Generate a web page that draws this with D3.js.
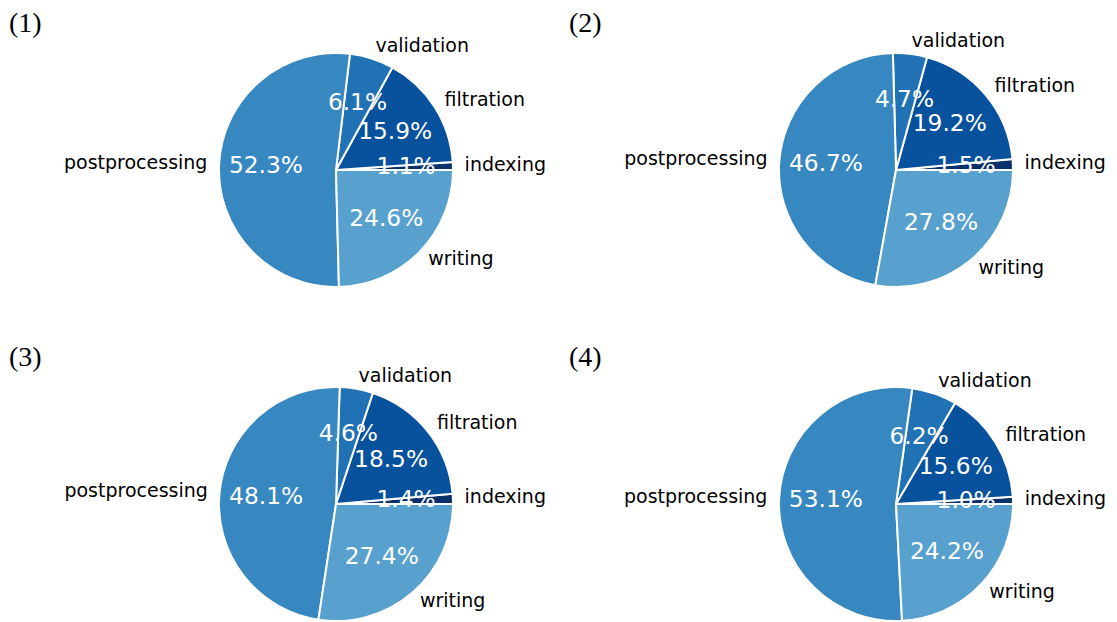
<!DOCTYPE html>
<html>
<head>
<meta charset="utf-8">
<script src="https://cdn.jsdelivr.net/npm/d3@7"></script>
<style>
  html, body { margin: 0; padding: 0; background: #ffffff; }
  svg { display: block; }
</style>
</head>
<body>
<svg id="chart" width="1117" height="622"></svg>
<script>
const categories = ["indexing", "filtration", "validation", "postprocessing", "writing"];
const colors = ["#08306b", "#08519c", "#2171b5", "#3787c0", "#58a1cf"];
const panelTitles = ["(1)", "(2)", "(3)", "(4)"];
const values1 = [1.1, 15.9, 6.1, 52.3, 24.6];
const values2 = [1.5, 19.2, 4.7, 46.7, 27.8];
const values3 = [1.4, 18.5, 4.6, 48.1, 27.4];
const values4 = [1.0, 15.6, 6.2, 53.1, 24.2];
const seriesList = [values1, values2, values3, values4];

const svg = d3.select("#chart");
const R = 117;
const colX = d3.scalePoint().domain([0, 1]).range([336, 896]);
const rowY = d3.scalePoint().domain([0, 1]).range([170, 504]);
const titleX = d3.scalePoint().domain([0, 1]).range([9, 569]);
const titleY = d3.scalePoint().domain([0, 1]).range([22, 356]);

const color = d3.scaleOrdinal().domain(categories).range(colors);

// matplotlib default: start at 3 o'clock, counterclockwise
const pie = d3.pie().sort(null).value(d => d.v)
  .startAngle(Math.PI / 2).endAngle(Math.PI / 2 - 2 * Math.PI);
const arc = d3.arc().innerRadius(0).outerRadius(R);
const labelArc = d3.arc().innerRadius(R * 1.1).outerRadius(R * 1.1);
const pctArc = d3.arc().innerRadius(R * 0.6).outerRadius(R * 0.6);

seriesList.forEach((vals, i) => {
  const col = i % 2, row = Math.floor(i / 2);
  const g = svg.append("g").attr("transform", `translate(${colX(col)},${rowY(row)})`);
  const data = categories.map((c, k) => ({ c, v: vals[k] }));
  const arcs = pie(data);

  g.selectAll("path.wedge").data(arcs).enter().append("path")
    .attr("class", "wedge")
    .attr("d", arc)
    .attr("fill", d => color(d.data.c))
    .attr("stroke", "#ffffff")
    .attr("stroke-width", 2)
    .attr("stroke-linejoin", "round");

  g.selectAll("text.lab").data(arcs).enter().append("text")
    .attr("class", "lab")
    .attr("transform", d => `translate(${labelArc.centroid(d)})`)
    .attr("text-anchor", d => labelArc.centroid(d)[0] > 0 ? "start" : "end")
    .attr("dominant-baseline", "central")
    .attr("dy", -2)
    .style("font-family", "'DejaVu Sans', sans-serif")
    .style("font-size", "19px")
    .attr("fill", "#000000")
    .text(d => d.data.c);

  g.selectAll("text.pct").data(arcs).enter().append("text")
    .attr("class", "pct")
    .attr("transform", d => `translate(${pctArc.centroid(d)})`)
    .attr("text-anchor", "middle")
    .attr("dominant-baseline", "central")
    .attr("dy", -2)
    .style("font-family", "'DejaVu Sans', sans-serif")
    .style("font-size", "23.3px")
    .attr("fill", "#ffffff")
    .text(d => d.data.v.toFixed(1) + "%");

  svg.append("text")
    .attr("x", titleX(col))
    .attr("y", titleY(row))
    .attr("dominant-baseline", "central")
    .style("font-family", "'Liberation Serif', 'DejaVu Serif', serif")
    .style("font-size", "28px")
    .attr("fill", "#000000")
    .text(panelTitles[i]);
});
</script>
</body>
</html>
